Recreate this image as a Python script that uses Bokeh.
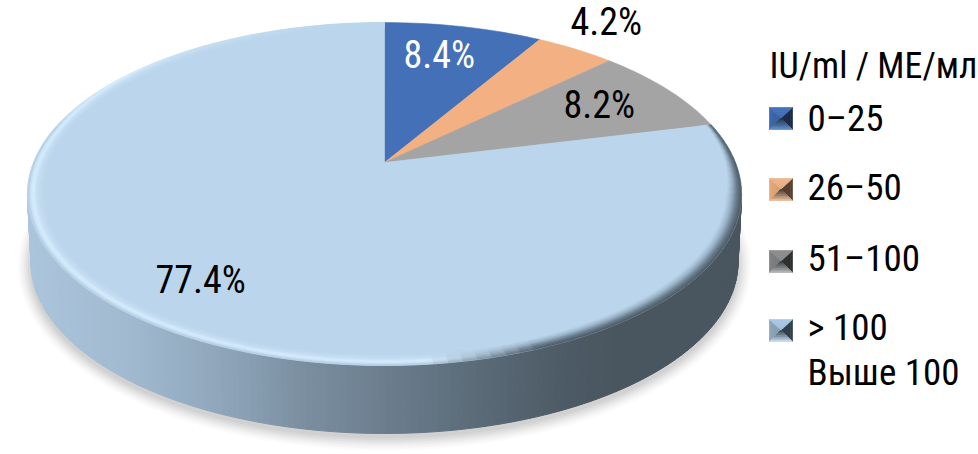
import math
from bokeh.plotting import figure
from bokeh.models import Range1d, ColumnDataSource
from bokeh.core.properties import value
from bokeh.embed import file_html
from bokeh.resources import INLINE

# ---- data ----
categories = ["0–25", "26–50", "51–100", "> 100"]
category_line2 = ["", "", "", "Выше 100"]
shares = [8.4, 4.2, 8.2, 77.4]
share_labels = ["8.4%", "4.2%", "8.2%", "77.4%"]
legend_title = "IU/ml / ME/мл"
slice_colors = ["#4470b8", "#f3b083", "#a4a4a4", "#bbd6ec"]

FONT = value("Roboto Condensed, DejaVu Sans Condensed, Roboto")
W, H = 978, 454
p = figure(width=W, height=H, output_backend="svg", toolbar_location=None,
           x_range=Range1d(0, W), y_range=Range1d(H, 0),
           min_border=0, outline_line_color=None)
p.axis.visible = False
p.grid.visible = False
p.background_fill_color = "white"

# perspective projection of the pie disc
CX, CY, A, B, K = 384.0, 162.0, 351.0, 165.7, 0.1837
DEPTH = 68.0
def proj(theta, r=1.0):
    t = math.radians(theta)
    u, v = r * math.sin(t), r * math.cos(t)
    d = 1 + K * v
    return CX + A * u / d, CY - B * v / d

def lower(x, y):
    return CX + (x - CX) * 0.99, y + DEPTH

def hexrgb(c):
    return tuple(int(c[i:i + 2], 16) for i in (1, 3, 5))
def mix(c1, c2, f):
    f = max(0.0, min(1.0, f))
    a, b = hexrgb(c1), hexrgb(c2)
    return "#%02x%02x%02x" % tuple(round(a[i] + (b[i] - a[i]) * f) for i in range(3))
def ramp(stops, x):
    if x <= stops[0][0]:
        return stops[0][1]
    for (x0, c0), (x1, c1) in zip(stops, stops[1:]):
        if x <= x1:
            return mix(c0, c1, (x - x0) / (x1 - x0))
    return stops[-1][1]

# soft shadow
for dr, alpha in [(13, .03), (11, .04), (9, .05), (7, .06), (5, .07), (3, .08), (1, .09)]:
    xs, ys = [], []
    for i in range(181):
        x, y = proj(i * 2)
        lx, ly = lower(x, y)
        xs.append(CX + (lx - CX) * (1 + dr / 353))
        ys.append(ly + 4 + (ly - 262) * (dr / 172))
    p.patch(xs, ys, fill_color="#808080", fill_alpha=alpha, line_color=None)

# side wall
SIDE = [(27, "#abc5dc"), (130, "#a0b9cf"), (220, "#8fa6ba"), (300, "#7b8fa1"),
        (384, "#6c7e8e"), (470, "#5c6c79"), (560, "#4d5b66"), (620, "#49565f"), (742, "#49565f")]
sx, sy, sc = [], [], []
N = 180
T0, T1 = 100.6, 259.4
for i in range(N):
    a = T0 + (T1 - T0) * i / N
    b = T0 + (T1 - T0) * (i + 1) / N
    x0, y0 = proj(a)
    x1, y1 = proj(b)
    lx0, ly0 = lower(x0, y0)
    lx1, ly1 = lower(x1, y1)
    sx.append([x0, x1, lx1, lx0])
    sy.append([y0, y1, ly1, ly0])
    sc.append(ramp(SIDE, (x0 + x1) / 2))
p.patches(xs="x", ys="y", fill_color="c", line_color="c", line_width=1,
          source=ColumnDataSource(dict(x=sx, y=sy, c=sc)))

# top slices, from the shares
total = sum(shares)
edges = [0.0]
for s in shares:
    edges.append(edges[-1] + 360.0 * s / total)
tx, ty = [], []
for k in range(len(shares)):
    n = max(6, int((edges[k + 1] - edges[k]) / 1.5))
    xs, ys = [CX], [CY]
    for j in range(n + 1):
        x, y = proj(edges[k] + (edges[k + 1] - edges[k]) * j / n)
        xs.append(x)
        ys.append(y)
    tx.append(xs)
    ty.append(ys)
p.patches(xs="x", ys="y", fill_color="c", line_color="c", line_width=0.5,
          source=ColumnDataSource(dict(x=tx, y=ty, c=slice_colors)))

# bevel on the rim
BASE = slice_colors[3]
PROFILE_L = [(0.0, BASE), (0.4, "#c6def3"), (0.66, "#d8eefe"), (0.88, "#c4dcf0"), (1.0, "#adc7de")]
PROFILE_R = [(0.0, BASE), (0.35, "#9ab3c8"), (0.7, "#66798a"), (1.0, "#4b5862")]
bx, by, bc = [], [], []
RINGS = 9
R_IN = 0.958
SEG = 140
for i in range(SEG):
    a = edges[3] + (360 - edges[3]) * i / SEG
    b = edges[3] + (360 - edges[3]) * (i + 1) / SEG
    m = (a + b) / 2
    mx, _ = proj(m)
    tx_ = (mx - 27) / 715
    dark = max(0.0, min(1.0, (tx_ - 0.56) / 0.16))
    if m < 180:
        w = min(1.0, max(0.35, (m - edges[3]) / 40 + 0.35))
    else:
        w = min(1.0, max(0.0, (352 - m) / 70))
    for r in range(RINGS):
        r0 = R_IN + (1 - R_IN) * r / RINGS
        r1 = R_IN + (1 - R_IN) * (r + 1) / RINGS
        s = (r + 0.5) / RINGS
        if w < 1 and m >= 180:
            s *= w
        lt = ramp(PROFILE_L, s)
        dk = ramp(PROFILE_R, s)
        if m < 180:
            s2 = (s - (1 - w)) / w if s > (1 - w) else 0
            dk = ramp(PROFILE_R, s2)
        c = mix(lt, dk, dark)
        x0, y0 = proj(a, r0)
        x1, y1 = proj(b, r0)
        x2, y2 = proj(b, r1)
        x3, y3 = proj(a, r1)
        bx.append([x0, x1, x2, x3])
        by.append([y0, y1, y2, y3])
        bc.append(c)
p.patches(xs="x", ys="y", fill_color="c", line_color="c", line_width=0.6,
          source=ColumnDataSource(dict(x=bx, y=by, c=bc)))

# slice labels
lab_x = [403, 570, 563, 155]
lab_y = [54, 21, 104, 279]
lab_c = ["#ffffff", "#000000", "#000000", "#000000"]
p.text(x="x", y="y", text="t", text_color="c", text_font=FONT, text_font_size="38px",
       text_align="left", text_baseline="middle",
       source=ColumnDataSource(dict(x=lab_x, y=lab_y, t=share_labels, c=lab_c)))

# legend
LX, LS = 769, 23
rows = [107, 178, 250, 319]
tone = [("#3a66ac", "#1d2b4c", "#4472ba", "#6292d8"),
        ("#e8a878", "#5c4333", "#f0b488", "#f7c39c"),
        ("#808080", "#303030", "#8e8e8e", "#bdbdbd"),
        ("#8ea6bc", "#33424f", "#a9c8e4", "#cfe6fa")]
mxs, mys, mcs = [], [], []
BANDS = 5
for ty0, (cl, cr, ct, cb) in zip(rows, tone):
    mx, my = LX + LS / 2, ty0 + 10.5
    x0, x1, y0, y1 = LX, LX + LS, ty0, ty0 + 22
    sides = [((x0, y0), (x0, y1), cl, 0.9), ((x1, y0), (x1, y1), cr, 0.8),
             ((x0, y0), (x1, y0), ct, 0.95), ((x0, y1), (x1, y1), cb, 0.2)]
    for (pa, pb, col, apex) in sides:
        apex_c = mix("#101820", col, apex)
        for i in range(BANDS):
            f0, f1 = i / BANDS, (i + 1) / BANDS
            mxs.append([pa[0] + (mx - pa[0]) * f0, pb[0] + (mx - pb[0]) * f0,
                        pb[0] + (mx - pb[0]) * f1, pa[0] + (mx - pa[0]) * f1])
            mys.append([pa[1] + (my - pa[1]) * f0, pb[1] + (my - pb[1]) * f0,
                        pb[1] + (my - pb[1]) * f1, pa[1] + (my - pa[1]) * f1])
            mcs.append(mix(col, apex_c, (f0 + f1) / 2))
p.patches(xs="x", ys="y", fill_color="c", line_color="c", line_width=0.7,
          source=ColumnDataSource(dict(x=mxs, y=mys, c=mcs)))

p.text(x=[769], y=[65], text=[legend_title], text_color="#000000", text_font=FONT, text_font_size="36px",
       text_align="left", text_baseline="middle")
txt_x = [807] * 5
txt_y = [118, 187, 258, 327, 372]
txt_t = categories + [category_line2[3]]
p.text(x="x", y="y", text="t", text_color="#000000", text_font=FONT, text_font_size="37px",
       text_align="left", text_baseline="middle",
       source=ColumnDataSource(dict(x=txt_x, y=txt_y, t=txt_t)))

open("out.html", "w").write(file_html(p, INLINE))
